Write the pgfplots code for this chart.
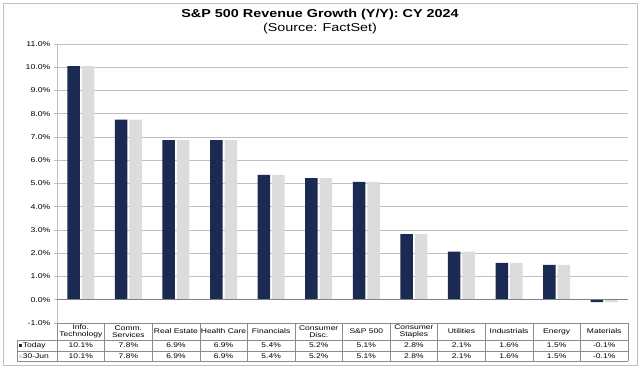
\documentclass[border=0pt]{standalone}
\usepackage{pgfplots}
\pgfplotsset{compat=1.18}
\usepackage{pgfplotstable}
\usepackage{fontspec}
\setmainfont{Liberation Sans}[FakeStretch=1.25]
\definecolor{navy}{HTML}{1B2A52}
\definecolor{lgray}{HTML}{DCDCDC}
\definecolor{gridc}{HTML}{BFBFBF}
\definecolor{tabc}{HTML}{8C8C8C}
\pgfplotstableread{
x today jun
0 10.05 10.05
1 7.75 7.75
2 6.87 6.87
3 6.87 6.87
4 5.37 5.37
5 5.23 5.23
6 5.07 5.07
7 2.82 2.82
8 2.07 2.07
9 1.59 1.59
10 1.50 1.50
11 -0.10 -0.10
}\data
\begin{document}
\begin{tikzpicture}[x=1pt,y=1pt,font=\fontsize{6.8}{7.5}\selectfont]
\useasboundingbox (0,0) rectangle (640,367);
\draw[gridc, line width=0.8pt] (3,2) rectangle (637,364);
\node[font=\bfseries\fontsize{11.5}{13}\selectfont] at (320,352.5) {S\&P 500 Revenue Growth (Y/Y): CY 2024};
\node[font=\fontsize{11.5}{13}\selectfont] at (320,338) {(Source: FactSet)};
\begin{axis}[
  at={(57pt,44pt)}, anchor=south west,
  scale only axis, width=571pt, height=279pt,
  xmin=-0.5, xmax=11.5, ymin=-1, ymax=11,
  ytick={-1,0,...,11}, xtick=\empty,
  axis x line=none, axis y line*=left,
  y axis line style={gridc, line width=0.6pt, -},
  ymajorgrids, grid style={gridc, line width=0.6pt},
  major tick length=3pt, tick align=outside,
  ytick style={gridc, line width=0.6pt},
  yticklabel style={font=\fontsize{7}{8}\selectfont, /pgf/number format/.cd, fixed, fixed zerofill, precision=1, assume math mode=true},
  yticklabel={\pgfmathprintnumber{\tick}\%},
  ybar=2pt, bar width=12.5pt,
  clip=false,
]
\addplot[fill=navy, draw=none] table[x=x,y=today]{\data};
\addplot[fill=lgray, draw=none] table[x=x,y=jun]{\data};
\draw[gray, line width=0.6pt] (axis cs:-0.5,0) -- (axis cs:11.5,0);
\end{axis}
% data table
\foreach \k in {0,...,12} \draw[tabc, line width=0.5pt] ({57+\k*47.583},6) -- ({57+\k*47.583},44);
\draw[tabc, line width=0.5pt] (57,44) -- (628,44);
\draw[tabc, line width=0.5pt] (17,27) -- (628,27);
\draw[tabc, line width=0.5pt] (17,16) -- (628,16);
\draw[tabc, line width=0.5pt] (17,6) -- (628,6);
\draw[tabc, line width=0.5pt] (17,6) -- (17,27);
\foreach \lab [count=\i from 0] in {{Info.\\Technology},{Comm.\\Services},{Real Estate},{Health Care},{Financials},{Consumer\\Disc.},{S\&P 500},{Consumer\\Staples},{Utilities},{Industrials},{Energy},{Materials}}
  \node[align=center, font=\fontsize{6.8}{7.2}\selectfont, inner sep=0pt] at ({57+(\i+0.5)*47.583},35.5) {\lab};
\foreach \v [count=\i from 0] in {10.1\%,7.8\%,6.9\%,6.9\%,5.4\%,5.2\%,5.1\%,2.8\%,2.1\%,1.6\%,1.5\%,-0.1\%}{
  \node[inner sep=0pt] at ({57+(\i+0.5)*47.583},21.5) {\v};
  \node[inner sep=0pt] at ({57+(\i+0.5)*47.583},11) {\v};
}
\node[anchor=west, inner sep=0pt] at (18.5,21.5) {\textcolor{navy}{\rule{3pt}{3pt}}\,Today};
\node[anchor=west, inner sep=0pt] at (18.5,11) {\textcolor{lgray}{\rule{3pt}{3pt}}\,30-Jun};
\end{tikzpicture}
\end{document}
